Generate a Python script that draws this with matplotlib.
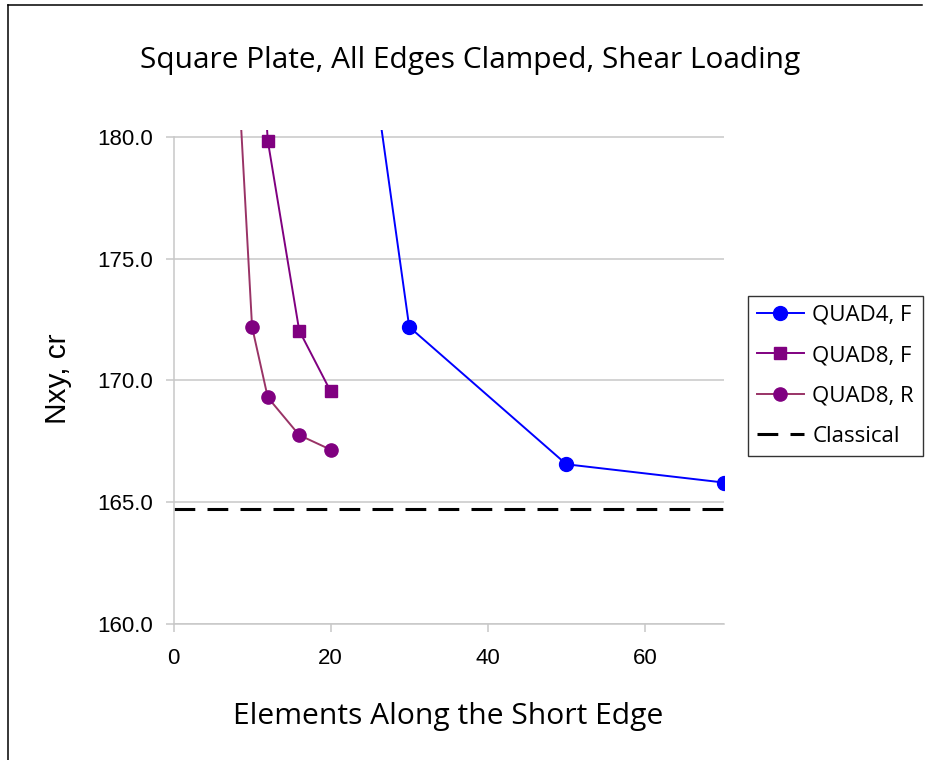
import matplotlib.pyplot as plt
from matplotlib.lines import Line2D

# Data (values above 180 are clipped by the axes)
quad4_f_x = [20, 30, 50, 70]
quad4_f_y = [195.3, 172.2, 166.55, 165.8]

quad8_f_x = [8, 12, 16, 20]
quad8_f_y = [200.0, 179.86, 172.05, 169.55]

quad8_r_x = [8, 10, 12, 16, 20]
quad8_r_y = [184.0, 172.2, 169.3, 167.75, 167.15]

classical_x = [0, 70]
classical_y = [164.7, 164.7]

y_ticks = [160, 165, 170, 175, 180]
x_ticks = [0, 20, 40, 60]

W, H = 927, 760
fig = plt.figure(figsize=(W / 100, H / 100), dpi=100)
ax = fig.add_axes([173.5 / W, 1 - 623.5 / H, 550 / W, 493.5 / H])

grid_c = '#c8c8c8'
ax.set_xlim(0, 70)
ax.set_ylim(160, 180.3)
ax.set_yticks(y_ticks)
ax.set_xticks(x_ticks)
ax.set_yticklabels([f'{v:.1f}' for v in y_ticks])
ax.yaxis.grid(True, color=grid_c, linewidth=1.1, zorder=0)
ax.set_axisbelow(True)
for s in ['top', 'right']:
    ax.spines[s].set_visible(False)
for s in ['left', 'bottom']:
    ax.spines[s].set_color(grid_c)
    ax.spines[s].set_linewidth(1.1)
ax.spines['left'].set_bounds(160, 180)
ax.tick_params(axis='both', direction='out', length=6, width=1.1, color=grid_c,
               labelsize=16, labelfontfamily='Liberation Sans')
ax.tick_params(axis='y', pad=9)
ax.tick_params(axis='x', pad=12)

# series
ax.plot(quad4_f_x, quad4_f_y, color='#0000ff', lw=1.4, marker='o', ms=10,
        label='QUAD4, F', zorder=3)
ax.plot(quad8_f_x, quad8_f_y, color='#800080', lw=1.4, marker='s', ms=9,
        label='QUAD8, F', zorder=3)
ax.plot(quad8_r_x, quad8_r_y, color='#993366', lw=1.4, marker='o', ms=9.5,
        mfc='#800080', mec='#800080', label='QUAD8, R', zorder=3)
ax.plot(classical_x, classical_y, color='black', lw=2.2,
        linestyle=(0, (6.8, 4.0)), label='Classical', zorder=2)

ax.set_xlabel('Elements Along the Short Edge', family='Open Sans', fontsize=21.6)
ax.xaxis.set_label_coords(0.5, -(724 - 623.5) / 493.5)
ax.xaxis.label.set_va('baseline')
ax.set_ylabel('Nxy, cr', family='Liberation Sans', fontsize=21.5)
ax.yaxis.set_label_coords(-(173.5 - 58) / 550, (623.5 - 379) / 493.5)
ax.yaxis.label.set_va('center')

fig.text(470.5 / W, 1 - 68 / H, 'Square Plate, All Edges Clamped, Shear Loading',
         family='Open Sans', fontsize=21.5, ha='center', va='baseline')

leg = ax.legend(loc='upper left', bbox_to_anchor=(748 / W, 1 - 296 / H),
                bbox_transform=fig.transFigure, prop={'family': 'Open Sans', 'size': 16},
                frameon=True, fancybox=False, borderpad=0.4, labelspacing=0.87,
                handlelength=2.12, handletextpad=0.38, borderaxespad=0)
leg.get_frame().set_edgecolor('black')
leg.get_frame().set_linewidth(1.0)

# chart area border (only top and left edges visible in the reference)
fig.add_artist(Line2D([8 / W, 8 / W], [1 - 5 / H, 0], color='black', lw=1.1,
                      transform=fig.transFigure))
fig.add_artist(Line2D([8 / W, 922 / W], [1 - 5 / H, 1 - 5 / H], color='black', lw=1.1,
                      transform=fig.transFigure))

fig.savefig('out.png', dpi=100)
